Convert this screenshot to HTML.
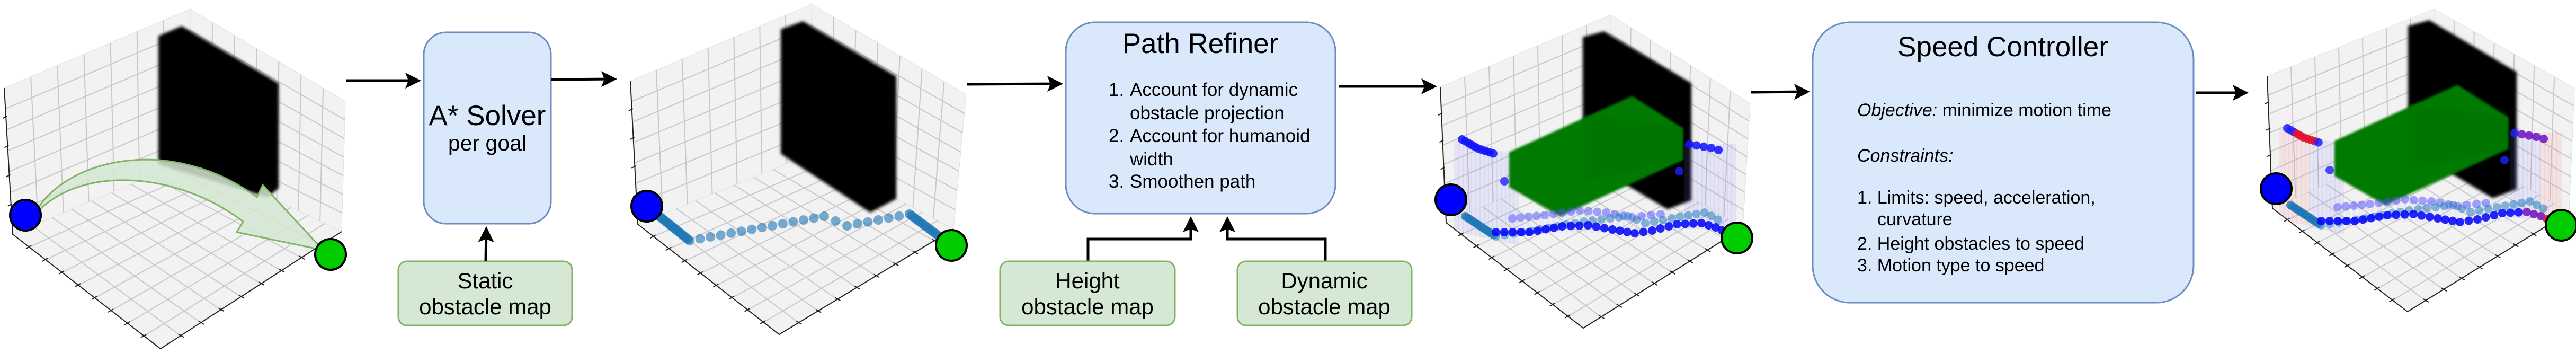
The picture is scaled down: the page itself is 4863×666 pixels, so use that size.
<!DOCTYPE html>
<html><head><meta charset="utf-8"><style>
html,body{margin:0;padding:0;background:#fff;width:4863px;height:666px;overflow:hidden}
svg{display:block}
text{font-family:"Liberation Sans",Arial,sans-serif;fill:#000}
</style></head><body>
<svg id="s" width="4863" height="666" viewBox="0 0 4863 666" xmlns="http://www.w3.org/2000/svg">
<defs>
<filter id="bl" x="-10%" y="-10%" width="120%" height="120%"><feGaussianBlur stdDeviation="3"/></filter>
<filter id="bl2" x="-10%" y="-10%" width="120%" height="120%"><feGaussianBlur stdDeviation="2"/></filter>
<marker id="ah" markerWidth="6" markerHeight="6" refX="5" refY="3" orient="auto" markerUnits="strokeWidth"><path d="M0,0 L6,3 L0,6 L1.2,3 Z" fill="#000"/></marker>
</defs>
<g id="plots"></g>

<!-- Plot 1 curved arrow -->
<path d="M60,414 C110,300 320,250 485,372 L496,349 L610,472 L447,438 L459,418 C330,320 140,310 60,412 Z" fill="#d5e8d4" fill-opacity="0.85" stroke="#82b366" stroke-width="3"/>

<!-- A* solver -->
<rect x="800" y="61" width="240" height="361" rx="42" ry="42" fill="#dae8fc" stroke="#6c8ebf" stroke-width="3"/>
<text x="920" y="236" font-size="53" text-anchor="middle">A* Solver</text>
<text x="920" y="284" font-size="41" text-anchor="middle">per goal</text>
<rect x="752" y="493" width="328" height="121" rx="16" fill="#d5e8d4" stroke="#82b366" stroke-width="3"/>
<text x="916" y="544" font-size="42" text-anchor="middle">Static</text>
<text x="916" y="593" font-size="42" text-anchor="middle">obstacle map</text>

<g stroke="#000" stroke-width="5" fill="none" marker-end="url(#ah)">
<path d="M654,152 L790,152"/>
<path d="M1040,150 L1160,149"/>
<path d="M917,493 L918,432"/>
<path d="M1826,159 L2002,158"/>
<path d="M2527,163 L2708,163"/>
<path d="M2054,493 L2054,451 L2248,451 L2248,413"/>
<path d="M2502,493 L2502,451 L2317,451 L2317,413"/>
<path d="M3306,174 L3412,173"/>
<path d="M4145,175 L4240,175"/>
</g>

<!-- Path Refiner -->
<rect x="2012" y="42" width="509" height="361" rx="55" ry="55" fill="#dae8fc" stroke="#6c8ebf" stroke-width="3"/>
<text x="2266" y="100" font-size="53" text-anchor="middle">Path Refiner</text>
<g font-size="35">
<text x="2093" y="181">1.</text><text x="2133" y="181">Account for dynamic</text>
<text x="2133" y="225">obstacle projection</text>
<text x="2093" y="268">2.</text><text x="2133" y="268">Account for humanoid</text>
<text x="2133" y="312">width</text>
<text x="2093" y="354">3.</text><text x="2133" y="354">Smoothen path</text>
</g>
<rect x="1888" y="493" width="330" height="121" rx="16" fill="#d5e8d4" stroke="#82b366" stroke-width="3"/>
<text x="2053" y="544" font-size="42" text-anchor="middle">Height</text>
<text x="2053" y="593" font-size="42" text-anchor="middle">obstacle map</text>
<rect x="2336" y="493" width="329" height="121" rx="16" fill="#d5e8d4" stroke="#82b366" stroke-width="3"/>
<text x="2500" y="544" font-size="42" text-anchor="middle">Dynamic</text>
<text x="2500" y="593" font-size="42" text-anchor="middle">obstacle map</text>

<!-- Speed Controller -->
<rect x="3422" y="42" width="719" height="529" rx="70" ry="70" fill="#dae8fc" stroke="#6c8ebf" stroke-width="3"/>
<text x="3781" y="106" font-size="53" text-anchor="middle">Speed Controller</text>
<g font-size="34">
<text x="3506" y="219"><tspan font-style="italic">Objective:</tspan> minimize motion time</text>
<text x="3506" y="305" font-style="italic">Constraints:</text>
<text x="3506" y="384">1. Limits: speed, acceleration,</text>
<text x="3544" y="425">curvature</text>
<text x="3506" y="471">2. Height obstacles to speed</text>
<text x="3506" y="512">3. Motion type to speed</text>
</g>
<g id="circles"></g>
</svg>
<script>
var NS="http://www.w3.org/2000/svg";
var G=document.getElementById('plots');
function el(t,a,p){var e=document.createElementNS(NS,t);for(var k in a)e.setAttribute(k,a[k]);(p||G).appendChild(e);return e;}
function lerp(a,b,t){return [a[0]+(b[0]-a[0])*t,a[1]+(b[1]-a[1])*t];}
function quad(p,g,n){
  el('polygon',{points:p.map(function(q){return q.join(',')}).join(' '),fill:'#f2f2f2',stroke:'#e0e0e0','stroke-width':1},g);
  for(var i=1;i<n;i++){var t=i/n;
    var a=lerp(p[0],p[1],t),b=lerp(p[3],p[2],t);
    el('line',{x1:a[0],y1:a[1],x2:b[0],y2:b[1],stroke:'#c8c8c8','stroke-width':2},g);
    a=lerp(p[0],p[3],t);b=lerp(p[1],p[2],t);
    el('line',{x1:a[0],y1:a[1],x2:b[0],y2:b[1],stroke:'#c8c8c8','stroke-width':2},g);}
}
function cube(c){
  var g=el('g',{});
  quad([c.Lt,c.T,c.B,c.Lb],g,7);
  quad([c.T,c.Rt,c.Rb,c.B],g,7);
  quad([c.Lb,c.B,c.Rb,c.F],g,9);
  el('polyline',{points:[c.Lt,c.Lb,c.F,c.Rb].map(function(q){return q.join(',')}).join(' '),fill:'none',stroke:'#222','stroke-width':2},g);
  // ticks
  for(var i=1;i<9;i++){var t=i/9;var a=lerp(c.Lb,c.F,t);el('line',{x1:a[0]-6,y1:a[1]+3,x2:a[0]+4,y2:a[1]-3,stroke:'#222','stroke-width':2},g);
    a=lerp(c.F,c.Rb,t);el('line',{x1:a[0]-4,y1:a[1]-3,x2:a[0]+6,y2:a[1]+3,stroke:'#222','stroke-width':2},g);}
  for(var i=1;i<5;i++){var a=lerp(c.Lt,c.Lb,i/5);el('line',{x1:a[0]-6,y1:a[1]+2,x2:a[0]+2,y2:a[1]-2,stroke:'#222','stroke-width':2},g);}
}
function poly(pts,fill,op,filt){var a={points:pts.map(function(q){return q.join(',')}).join(' '),fill:fill};if(op)a['fill-opacity']=op;if(filt)a.filter='url(#'+filt+')';return el('polygon',a);}
function dots(pts,step,r,col,op,dx,dy){
  dx=dx||0;dy=dy||0;
  for(var i=0;i<pts.length-1;i++){var a=pts[i],b=pts[i+1];var L=Math.hypot(b[0]-a[0],b[1]-a[1]);var n=Math.max(1,Math.round(L/step));
    for(var j=0;j<n;j++){var p=lerp(a,b,j/n);var c=typeof col=='function'?col(p[0]+dx):col;el('circle',{cx:p[0]+dx,cy:p[1]+dy,r:r,fill:c,'fill-opacity':op});}}
}
// Plot 1
cube({Lt:[8,166],T:[359,17],Rt:[652,191],Lb:[24,442],B:[359,300],Rb:[645,437],F:[303,658]});
poly([[299,68],[343,49],[526,157],[526,355],[505,372],[299,310]],'#000',1,'bl');
// Plot 2
cube({Lt:[1190,153],T:[1532,8],Rt:[1824,178],Lb:[1204,423],B:[1532,290],Rb:[1800,432],F:[1471,631]});
poly([[1474,55],[1516,40],[1692,144],[1692,375],[1643,401],[1474,290]],'#000',1,'bl');
dots([[1221,389],[1302,454]],4,9,'#1f77b4',0.7);
dots([[1302,454],[1556,408],[1599,426],[1717,404]],20,9,'#1f77b4',0.6);
dots([[1717,404],[1796,463]],5,9,'#1f77b4',0.7);
// Plot 4 and 5
function scene(dx,dy,cb,red){
  cube(cb);
  poly([[2988+dx,70+dy],[3028+dx,59+dy],[3193+dx,157+dy],[3193+dx,378+dy],[3148+dx,395+dy],[2988+dx,300+dy]],'#000',1,'bl');
  var col=function(x){return '#3b3bff'};
  var bar=red?function(x){var rel=x-dx;return (rel<2800||rel>3230)?'#f07080':'#8080ff';}:function(){return '#8080ff'};
  for(var x=2745;x<2865;x+=8){el('rect',{x:x+dx,y:265+dy+(x-2745)*0.25,width:10,height:170,fill:bar(x+dx),'fill-opacity':0.12});}
  for(var x=3180;x<3275;x+=8){el('rect',{x:x+dx,y:272+dy,width:10,height:160,fill:bar(x+dx),'fill-opacity':0.12});}
  for(var x=2870;x<3180;x+=12){el('rect',{x:x+dx,y:400+dy,width:8,height:40,fill:'#8080ff','fill-opacity':0.08});}
  // green box
  poly([[3081+dx,181+dy],[2849+dx,287+dy],[2849+dx,353+dy],[2945+dx,408+dy],[3177+dx,302+dy],[3177+dx,242+dy]],'#057a05',1,'bl2');
  poly([[2990+dx,217+dy],[3177+dx,242+dy],[3177+dx,302+dy],[2990+dx,340+dy]],'#047004',0.5,'bl2');
  var c1=red?function(x){var r=x-dx;return (r>2775&&r<2815)||(r>3250)?'#e0102a':(r>3200?'#7010c0':'#2020ff');}:function(){return '#1010ff'};
  dots([[2760,263],[2790,280],[2826,292]],7,8,c1,0.85,dx,dy);
  dots([[3189,272],[3230,279],[3258,287]],14,8,c1,0.85,dx,dy);
  el('circle',{cx:2840+dx,cy:342+dy,r:8,fill:'#2020ff','fill-opacity':0.8});
  el('circle',{cx:3170+dx,cy:323+dy,r:8,fill:'#2020ff','fill-opacity':0.8});
  dots([[2855,412],[2916,406],[2982,397],[3032,401],[3081,410],[3135,404],[3152,399]],16,8,'#5050ff',0.5,dx,dy);
  dots([[2766,408],[2824,446]],5,8,'#1f77b4',0.8,dx,dy);
  dots([[2824,446],[2907,433],[2990,418],[3073,408],[3106,421],[3156,412],[3218,401],[3256,421]],17,8,'#2a7fc0',0.55,dx,dy);
  var c2=red?function(x){var r=x-dx;return r>3250?'#e0102a':(r>3200?'#7010c0':'#0000ff');}:function(){return '#0000ff'};
  dots([[2824,438],[2887,438],[2949,427],[2998,425],[3044,433],[3086,440],[3119,435],[3166,423],[3212,421],[3239,429],[3262,440]],15,8,c2,0.85,dx,dy);
}
scene(0,0,{Lt:[2719,164],T:[3041,28],Rt:[3304,195],Lb:[2730,420],B:[3041,285],Rb:[3290,430],F:[2989,619]},false);
scene(1558,-21,{Lt:[4280,144],T:[4595,17],Rt:[4860,166],Lb:[4290,393],B:[4595,255],Rb:[4850,400],F:[4545,588]},true);
// start/goal circles
var C=document.getElementById('circles');
[[48,406,'#0000ff'],[624,480,'#00cc00'],[1221,389,'#0000ff'],[1796,463,'#00cc00'],[2739,377,'#0000ff'],[3279,449,'#00cc00'],[4297,356,'#0000ff'],[4835,425,'#00cc00']].forEach(function(c){
  el('circle',{cx:c[0],cy:c[1],r:29,fill:c[2],stroke:'#000','stroke-width':4},C);});
</script>
</body></html>
